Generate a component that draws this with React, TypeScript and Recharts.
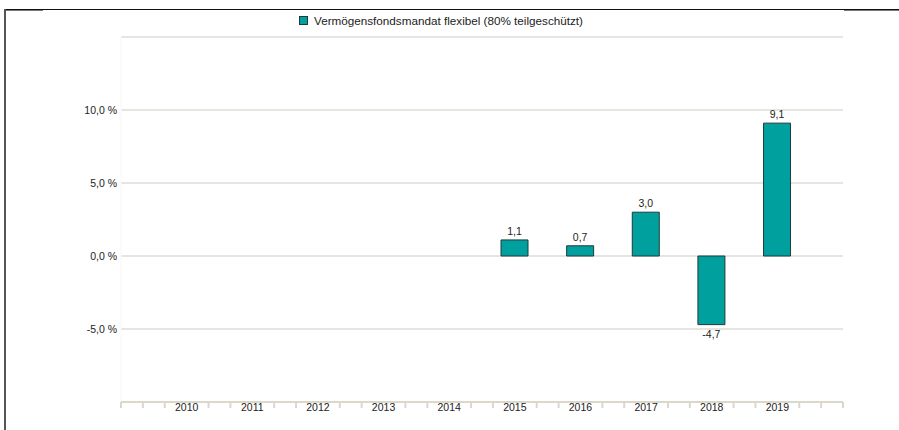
import { BarChart, Bar, XAxis, YAxis, CartesianGrid, LabelList, ReferenceLine } from 'recharts';

const YEARS = [2010, 2011, 2012, 2013, 2014, 2015, 2016, 2017, 2018, 2019];
const RETURNS: Array<number | null> = [null, null, null, null, null, 1.1, 0.7, 3.0, -4.7, 9.1];
const Y_TICKS = [-10, -5, 0, 5, 10, 15];
const Y_LABELLED = [-5, 0, 5, 10];
const SERIES_NAME = 'Vermögensfondsmandat flexibel (80% teilgeschützt)';

const BAR_FILL = '#00a09f';
const BAR_STROKE = '#1f3a3a';
const GRID = '#e0ddd6';
const AXIS = '#dcd7cb';
const TEXT = '#222';
const FONT = 'Liberation Sans, Arial, sans-serif';

const data = YEARS.map((year, i) => ({ year, value: RETURNS[i] }));

// minor ticks every third of a year, the whole years carry the label
const X_MIN = YEARS[0] - 1;
const X_MAX = YEARS[YEARS.length - 1] + 1;
const X_TICKS: number[] = [];
for (let y = X_MIN; y <= X_MAX; y++) {
  X_TICKS.push(y);
  if (y < X_MAX) X_TICKS.push(y + 1 / 3, y + 2 / 3);
}

const fmt = (v: number) => v.toFixed(1).replace('.', ',');

function XTick(props: any) {
  const { x, y, payload } = props;
  const v = Number(payload.value);
  const r = Math.round(v);
  if (Math.abs(v - r) < 1e-6 && YEARS.includes(r)) {
    return (
      <text x={x} y={y + 5} dy="0.355em" textAnchor="middle" fontSize={10.5} fill={TEXT} fontFamily={FONT}>
        {r}
      </text>
    );
  }
  return <line x1={x} x2={x} y1={y} y2={y + 6} stroke={AXIS} strokeWidth={2} />;
}

function BarLabel(props: any) {
  const { value } = props;
  if (value == null) return null;
  const x = Number(props.x);
  const y = Number(props.y);
  const w = Number(props.width);
  const h = Number(props.height);
  const top = Math.min(y, y + h);
  const bottom = Math.max(y, y + h);
  const neg = value < 0;
  return (
    <text
      x={x + w / 2}
      y={neg ? bottom + 10 : top - 9}
      dy="0.355em"
      textAnchor="middle"
      fontSize={10.5}
      fill={TEXT}
      fontFamily={FONT}
    >
      {fmt(value)}
    </text>
  );
}

export default function App() {
  return (
    <div style={{ position: 'absolute', left: 0, top: 0, width: 899, height: 430, background: '#fff', fontFamily: FONT }}>
      {/* frame of the original page */}
      <div style={{ position: 'absolute', left: 4, top: 9, width: 895, height: 1, background: '#111' }} />
      <div style={{ position: 'absolute', left: 5, top: 10, width: 38, height: 1, background: '#777' }} />
      <div style={{ position: 'absolute', left: 844, top: 10, width: 55, height: 1, background: '#777' }} />
      <div style={{ position: 'absolute', left: 4, top: 9, width: 2, height: 421, background: '#555' }} />

      <div
        style={{
          position: 'absolute',
          left: 299,
          top: 14,
          display: 'flex',
          alignItems: 'center',
          fontSize: 11.7,
          color: TEXT,
          whiteSpace: 'nowrap',
        }}
      >
        <span
          style={{
            display: 'inline-block',
            width: 7,
            height: 7,
            background: BAR_FILL,
            border: `1px solid ${BAR_STROKE}`,
            marginRight: 6,
          }}
        />
        {SERIES_NAME}
      </div>

      <BarChart width={899} height={430} data={data} margin={{ top: 37, right: 56, left: 0, bottom: 0 }}>
        <CartesianGrid vertical={false} stroke={GRID} strokeWidth={1.5} />
        <ReferenceLine x={X_MIN} stroke="#f7f7f7" />
        <XAxis
          dataKey="year"
          type="number"
          domain={[X_MIN, X_MAX]}
          ticks={X_TICKS}
          interval={0}
          allowDataOverflow
          tickSize={0}
          tickMargin={0}
          tickLine={false}
          tick={<XTick />}
          axisLine={{ stroke: AXIS, strokeWidth: 2 }}
          height={28}
        />
        <YAxis
          type="number"
          domain={[-10, 15]}
          ticks={Y_TICKS}
          interval={0}
          width={121}
          tickSize={0}
          tickMargin={4}
          axisLine={false}
          tickLine={false}
          tick={{ fontSize: 10.5, fill: TEXT, fontFamily: FONT }}
          tickFormatter={(v: number) => (Y_LABELLED.includes(v) ? `${fmt(v)} %` : '')}
        />
        <Bar dataKey="value" fill={BAR_FILL} stroke={BAR_STROKE} strokeWidth={1} barSize={27} isAnimationActive={false}>
          <LabelList dataKey="value" content={<BarLabel />} />
        </Bar>
      </BarChart>
    </div>
  );
}
